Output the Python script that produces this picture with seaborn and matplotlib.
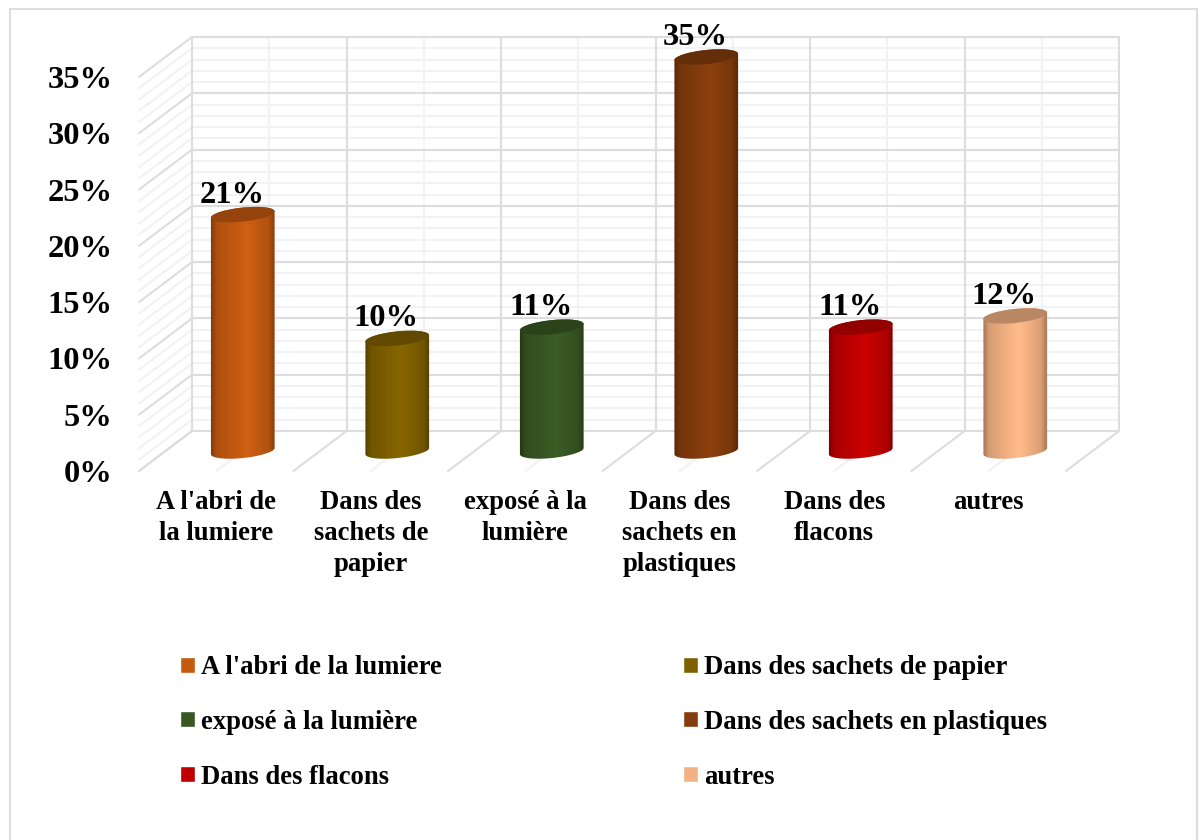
import numpy as np
import pandas as pd
import matplotlib
matplotlib.use('Agg')
import matplotlib.pyplot as plt
import seaborn as sb
from matplotlib.patches import Ellipse, Rectangle
from matplotlib.path import Path
from matplotlib.colors import to_rgb
from matplotlib.transforms import Affine2D, IdentityTransform

categories = ["A l'abri de la lumiere", 'Dans des sachets de papier', 'exposé à la lumière',
              'Dans des sachets en plastiques', 'Dans des flacons', 'autres']
tick_labels = ["A l'abri de\nla lumiere", 'Dans des\nsachets de\npapier', 'exposé à la\nlumière',
               'Dans des\nsachets en\nplastiques', 'Dans des\nflacons', 'autres']
values = [21, 10, 11, 35, 11, 12]
colors = ['#C55A11', '#7F6000', '#385723', '#843C0C', '#C00000', '#F4B183']
y_ticks = [0, 5, 10, 15, 20, 25, 30, 35]
y_minor = [v for v in range(36) if v % 5 != 0]

W, H = 1203, 840
sb.set_theme(style='white')
plt.rcParams['font.family'] = ['Liberation Serif', 'DejaVu Serif']
plt.rcParams['font.weight'] = 'bold'

fig = plt.figure(figsize=(W / 100, H / 100), dpi=100)
ax = fig.add_axes([165.5 / W, (H - 451) / H, 927 / W, 394 / H])

df = pd.DataFrame({'cat': categories, 'val': values})
sb.barplot(data=df, x='cat', y='val', hue='cat', palette=colors, hue_order=categories,
           dodge=False, width=0.41, legend=True, ax=ax, saturation=1)
ax.set_xlim(-0.5, 5.5)
ax.set_ylim(0, 35)
ax.set_xlabel('')
ax.set_ylabel('')
sb.despine(ax=ax, left=True, bottom=True)

# depth of the fake 3d box, in data units
px_x = 927 / 6
px_y = 394 / 35
depth_x = 26.5 / px_x
depth_y = 20 / px_y
left, right = -0.5, 5.5
major_c = '#DDDDDD'
minor_c = '#F2F2F2'

for group, col, z in [(y_minor, minor_c, 1.0), (y_ticks, major_c, 1.2)]:
    for v in group:
        ax.plot([left + depth_x, right + depth_x], [v + depth_y] * 2, color=col, lw=1.5, zorder=z, clip_on=False)
        ax.plot([left - depth_x, left + depth_x], [v - depth_y, v + depth_y], color=col, lw=1.5, zorder=z, clip_on=False)

for k in range(13):
    x = left + k / 2
    col = major_c if k % 2 == 0 else minor_c
    z = 1.2 if k % 2 == 0 else 1.0
    ax.plot([x + depth_x] * 2, [depth_y, 35 + depth_y], color=col, lw=1.5, zorder=z, clip_on=False)
    ax.plot([x - depth_x, x + depth_x], [-depth_y, depth_y], color=col, lw=1.5, zorder=z, clip_on=False)

# cylinders
a, b, tilt = 32.0, 7.0, np.deg2rad(6)
stops = [0, 0.1, 0.55, 0.88, 1]
shade = [0.62, 0.88, 1.06, 0.9, 0.62]
xs = np.linspace(0, 1, 200)
t_up = np.linspace(0, np.pi, 60)
t_down = np.linspace(np.pi, 2 * np.pi, 60)

def arc(t, cx, cy):
    ex = a * np.cos(t)
    ey = b * np.sin(t)
    return np.column_stack([cx + ex * np.cos(tilt) - ey * np.sin(tilt),
                            cy + ex * np.sin(tilt) + ey * np.cos(tilt)])

for i, (bar, val, c) in enumerate(zip(ax.patches, values, colors)):
    rgb = np.array(to_rgb(c))
    grad = np.clip(np.interp(xs, stops, shade)[:, None] * rgb, 0, 1)[None, :, :]
    x0 = bar.get_x()
    x1 = x0 + bar.get_width()
    im = ax.imshow(grad, extent=(x0 - 0.01, x1 + 0.01, -2, val + 2), aspect='auto', zorder=3)
    cx, top = ax.transData.transform((i, val))
    _, base = ax.transData.transform((i, 0))
    outline = np.vstack([arc(t_up, cx, top), arc(t_down, cx, base)])
    clip = Path(np.vstack([outline, outline[0]]), closed=True)
    for art in (im, bar):
        art.set_clip_box(fig.bbox)
        art.set_clip_path(clip, IdentityTransform())
    bar.set_zorder(2.5)
    cap = Ellipse((cx, top), 2 * a, 2 * b, angle=6, facecolor=np.clip(rgb * 0.76, 0, 1),
                  edgecolor='none', transform=IdentityTransform(), zorder=4, clip_on=False)
    ax.add_patch(cap)
    ax.annotate(f'{val}%', (i, val), xytext=(-11, 19.5), textcoords='offset pixels', ha='center',
                va='center', fontsize=23.4, fontweight='bold', color='black', zorder=5,
                annotation_clip=False)

ax.set_yticks(y_ticks)
ax.set_yticklabels([f'{v}%' for v in y_ticks])
ax.set_xticks(range(len(tick_labels)))
ax.set_xticklabels(tick_labels, linespacing=1.32)
ax.tick_params(axis='y', length=0, pad=38, labelsize=23.4, labelcolor='black')
ax.tick_params(axis='x', length=0, pad=28, labelsize=19.2, labelcolor='black')
for lab in ax.get_yticklabels():
    lab.set_transform(lab.get_transform() + Affine2D().translate(0, -20))
for lab in ax.get_xticklabels():
    lab.set_transform(lab.get_transform() + Affine2D().translate(-26.5, 0))

# legend fills by column, the chart reads by row
handles, labels = ax.get_legend_handles_labels()
order = [0, 2, 4, 1, 3, 5]
ax.legend_.remove()
fig.legend([handles[k] for k in order], [labels[k] for k in order], ncol=2, frameon=False,
           loc='upper left', bbox_to_anchor=(180 / W, (H - 655) / H), borderpad=0, borderaxespad=0,
           fontsize=19.2, handlelength=0.55, handleheight=0.55, handletextpad=0.22,
           columnspacing=9.07, labelspacing=1.116, labelcolor='black')

fig.add_artist(Rectangle((10 / W, -0.02), 1187 / W, (H - 9) / H + 0.02, transform=fig.transFigure,
                         facecolor='none', edgecolor=major_c, lw=1.5))

plt.savefig('out.png', dpi=100)
